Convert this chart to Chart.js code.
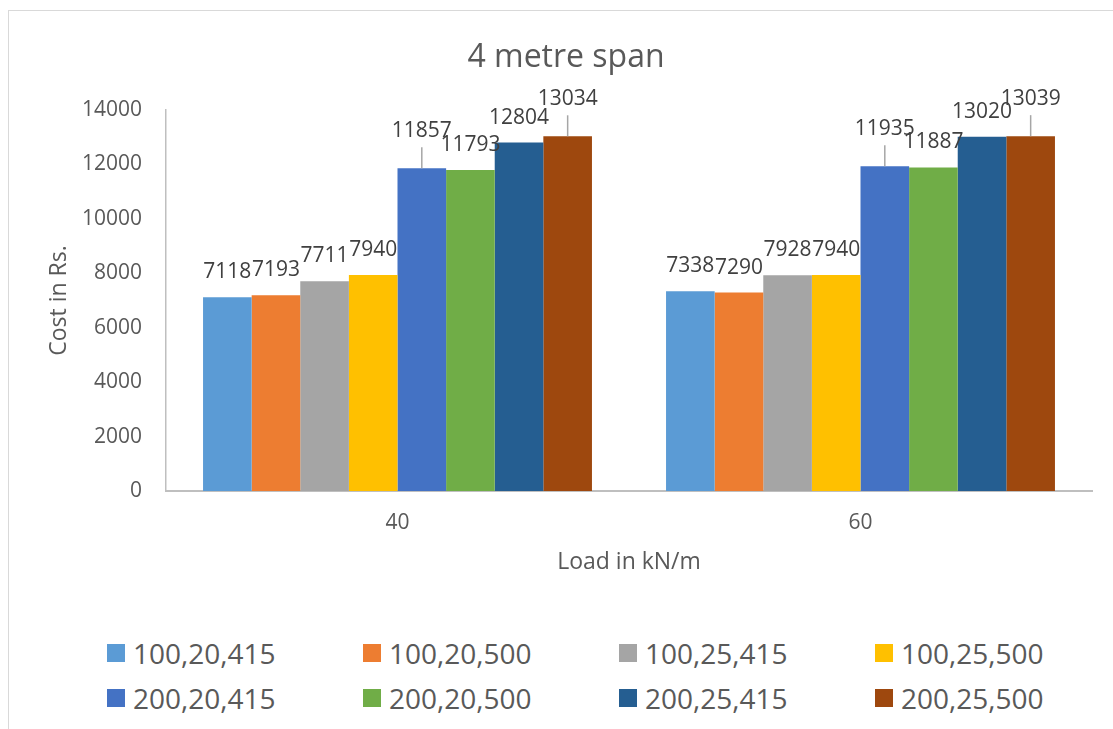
<!DOCTYPE html>
<html>
<head>
<meta charset="utf-8">
<script src="https://cdn.jsdelivr.net/npm/chart.js@4"></script>
<style>
  html, body { margin: 0; padding: 0; background: #fff; overflow: hidden; }
  body { width: 1113px; height: 729px; position: relative; font-family: "Open Sans", sans-serif; }
  #frame { position: absolute; left: 8px; top: 10px; width: 1200px; height: 800px; border: 1px solid #d9d9d9; }
  #wrap { position: absolute; left: 0; top: 0; width: 1113px; height: 600px; }
  #legend { position: absolute; left: 0; top: 0; }
  .lg-item { position: absolute; display: flex; align-items: center; height: 40px; color: #595959; font-size: 28px; white-space: nowrap; }
  .lg-box { width: 18px; height: 18px; margin-right: 8px; }
</style>
</head>
<body>
<div id="frame"></div>
<div id="wrap"><canvas id="chart"></canvas></div>
<div id="legend"></div>
<script>
// categories (load in kN/m)
const loads = ["40", "60"];

// series names
const seriesNames = [
  "100,20,415", "100,20,500", "100,25,415", "100,25,500",
  "200,20,415", "200,20,500", "200,25,415", "200,25,500"
];

// cost in Rs. per series, one value for each load
const s1 = [7118, 7338];
const s2 = [7193, 7290];
const s3 = [7711, 7928];
const s4 = [7940, 7940];
const s5 = [11857, 11935];
const s6 = [11793, 11887];
const s7 = [12804, 13020];
const s8 = [13034, 13039];

const colors = ["#5B9BD5", "#ED7D31", "#A5A5A5", "#FFC000", "#4472C4", "#70AD47", "#255E91", "#9E480E"];

const allSeries = [s1, s2, s3, s4, s5, s6, s7, s8];

// value labels above bars (a few are lifted with a leader line, like in Excel)
const barLabels = {
  id: "barLabels",
  afterDatasetsDraw(chart) {
    const ctx = chart.ctx;
    const lifted = [4, 7];
    ctx.save();
    ctx.font = "21px 'Open Sans'";
    ctx.fillStyle = "#404040";
    ctx.textAlign = "center";
    ctx.textBaseline = "middle";
    chart.data.datasets.forEach((ds, di) => {
      const meta = chart.getDatasetMeta(di);
      meta.data.forEach((bar, i) => {
        let y = bar.y - 25;
        if (lifted.includes(di)) {
          y = bar.y - 37;
          ctx.strokeStyle = "#a6a6a6";
          ctx.lineWidth = 1.5;
          ctx.beginPath();
          ctx.moveTo(bar.x, y + 16);
          ctx.lineTo(bar.x, bar.y);
          ctx.stroke();
        }
        ctx.fillText(String(ds.data[i]), bar.x, y);
      });
    });
    ctx.restore();
  }
};

new Chart(document.getElementById("chart"), {
  type: "bar",
  data: {
    labels: loads,
    datasets: allSeries.map((d, i) => ({
      label: seriesNames[i],
      data: d,
      backgroundColor: colors[i],
      borderWidth: 0,
      categoryPercentage: 0.84,
      barPercentage: 1
    }))
  },
  options: {
    responsive: true,
    maintainAspectRatio: false,
    animation: false,
    layout: { padding: { left: 40, right: 21, top: 0, bottom: 0 } },
    plugins: {
      legend: { display: false },
      tooltip: { enabled: false },
      title: {
        display: true,
        text: "4 metre span",
        color: "#595959",
        font: { family: "'Open Sans'", size: 32, weight: "normal" },
        padding: { top: 39, bottom: 32.6 }
      }
    },
    scales: {
      x: {
        grid: { display: false, drawTicks: false },
        border: { display: true, color: "#bfbfbf", width: 2 },
        ticks: { color: "#595959", font: { family: "'Open Sans'", size: 21 }, padding: 19 },
        title: {
          display: true,
          text: "Load in kN/m",
          color: "#595959",
          font: { family: "'Open Sans'", size: 23 },
          padding: { top: 0, bottom: 24 }
        },
        afterFit(s) { s.height = 109; }
      },
      y: {
        min: 0,
        max: 14000,
        grid: { display: false, drawTicks: false },
        border: { display: true, color: "#bfbfbf", width: 1.5 },
        ticks: {
          stepSize: 2000,
          color: "#595959",
          font: { family: "'Open Sans'", size: 21 },
          padding: 24,
          callback: v => String(v)
        },
        title: {
          display: true,
          text: "Cost in Rs.",
          color: "#595959",
          font: { family: "'Open Sans'", size: 23 },
          padding: { top: 6, bottom: 0 }
        },
        afterFit(s) { s.width = 126; }
      }
    }
  },
  plugins: [barLabels]
});

// legend, 4 columns x 2 rows
const legend = document.getElementById("legend");
seriesNames.forEach((name, i) => {
  const item = document.createElement("div");
  item.className = "lg-item";
  item.style.left = (107 + 256 * (i % 4)) + "px";
  item.style.top = (633 + 45 * Math.floor(i / 4)) + "px";
  item.innerHTML = `<span class="lg-box" style="background:${colors[i]}"></span><span>${name}</span>`;
  legend.appendChild(item);
});
</script>
</body>
</html>
